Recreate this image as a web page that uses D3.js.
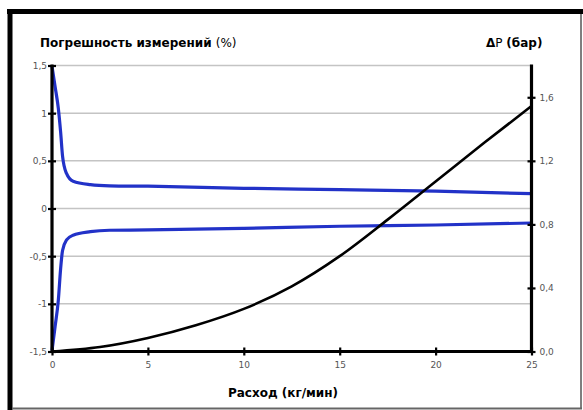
<!DOCTYPE html>
<html><head><meta charset="utf-8">
<script src="https://cdn.jsdelivr.net/npm/d3@7"></script>
<style>html,body{margin:0;padding:0;background:#fff;}svg{display:block;}</style>
</head><body>
<svg id="c" width="583" height="410"></svg>
<script>
// Data
const xTicks = [0, 5, 10, 15, 20, 25];
const leftTicks = [-1.5, -1, -0.5, 0, 0.5, 1, 1.5];
const rightTicks = [0, 0.4, 0.8, 1.2, 1.6];
const upperX = [0, 0.16, 0.33, 0.45, 0.55, 0.75, 1.1, 2, 3, 5, 10, 15, 20, 25];
const upperY = [1.49, 1.28, 1.05, 0.8, 0.55, 0.37, 0.285, 0.25, 0.238, 0.234, 0.212, 0.198, 0.182, 0.155];
const lowerX = [0, 0.16, 0.33, 0.45, 0.55, 0.76, 1.1, 2, 3, 5, 10, 15, 20, 25];
const lowerY = [-1.49, -1.24, -0.96, -0.63, -0.44, -0.33, -0.28, -0.243, -0.228, -0.225, -0.208, -0.186, -0.173, -0.152];
const dpX = [0, 2.5, 5, 7.5, 10, 12.5, 15, 17.5, 20, 22.5, 25];
const dpY = [0, 0.028, 0.085, 0.165, 0.268, 0.41, 0.6, 0.83, 1.07, 1.31, 1.545];

const fmt = d => String(d).replace('.', ',');
const fmtR = d => d.toFixed(1).replace('.', ',');

const svg = d3.select('#c');
const x = d3.scaleLinear().domain([0, 25]).range([52, 531.5]);
const yL = d3.scaleLinear().domain([-1.5, 1.5]).range([351.5, 65.5]);
const yR = d3.scaleLinear().domain([0, 1.8]).range([351.5, 65.5]);

// frame
svg.append('line').attr('x1', 7).attr('x2', 583).attr('y1', 11.5).attr('y2', 11.5).attr('stroke', '#000').attr('stroke-width', 5);
svg.append('line').attr('x1', 10).attr('x2', 10).attr('y1', 9).attr('y2', 410).attr('stroke', '#000').attr('stroke-width', 5);
svg.append('line').attr('x1', 581).attr('x2', 581).attr('y1', 14).attr('y2', 409).attr('stroke', '#555').attr('stroke-width', 1.5);
svg.append('line').attr('x1', 12).attr('x2', 582).attr('y1', 408.5).attr('y2', 408.5).attr('stroke', '#666').attr('stroke-width', 2);

// grid
svg.append('g').selectAll('line').data(leftTicks.filter(d => d > -1.5)).join('line')
  .attr('x1', x(0)).attr('x2', x(25)).attr('y1', d => yL(d)).attr('y2', d => yL(d))
  .attr('stroke', '#c4c4c4').attr('stroke-width', 1.5);

// curves
const line = d3.line().curve(d3.curveMonotoneX);
svg.append('path').attr('d', line(upperX.map((v, i) => [x(v), yL(upperY[i])])))
  .attr('fill', 'none').attr('stroke', '#2232c8').attr('stroke-width', 3.2);
svg.append('path').attr('d', line(lowerX.map((v, i) => [x(v), yL(lowerY[i])])))
  .attr('fill', 'none').attr('stroke', '#2232c8').attr('stroke-width', 3.2);
svg.append('path').attr('d', line(dpX.map((v, i) => [x(v), yR(dpY[i])])))
  .attr('fill', 'none').attr('stroke', '#000').attr('stroke-width', 2.6);

// axes
const axL = svg.append('g').attr('transform', `translate(${x(0)},0)`)
  .call(d3.axisLeft(yL).tickValues(leftTicks).tickFormat(fmt).tickSizeInner(4).tickSizeOuter(0));
const axR = svg.append('g').attr('transform', `translate(${x(25)},0)`)
  .call(d3.axisRight(yR).tickValues(rightTicks).tickFormat(fmtR).tickSizeInner(4).tickSizeOuter(0));
const axB = svg.append('g').attr('transform', `translate(0,${yL(-1.5)})`)
  .call(d3.axisBottom(x).tickValues(xTicks).tickSizeInner(4).tickSizeOuter(0));

[axL, axR, axB].forEach(a => {
  a.select('.domain').attr('stroke', '#000').attr('stroke-width', 3.2);
  a.selectAll('.tick line').attr('stroke', '#000').attr('stroke-width', 2.2);
  a.selectAll('.tick text').attr('fill', '#555').attr('font-family', 'DejaVu Sans, Verdana, sans-serif').attr('font-size', 9);
});
axL.select('.domain').attr('d', `M0,${yL(1.5) - 1}V${yL(-1.5) + 1.5}`);
axR.select('.domain').attr('d', `M0,${yR(1.8) - 1}V${yR(0) + 1.5}`);
axB.select('.domain').attr('d', `M${x(0)},0H${x(25) + 1.5}`);
axL.selectAll('.tick line').attr('x1', 4).attr('x2', -4);
axR.selectAll('.tick line').attr('x1', -4).attr('x2', 4);
axB.selectAll('.tick line').attr('y1', -4).attr('y2', 4);
axL.selectAll('.tick text').attr('x', -5);
axR.selectAll('.tick text').attr('x', 8);
axB.selectAll('.tick text').attr('y', 10);

// titles
const ff = 'DejaVu Sans, Verdana, sans-serif';
const t1 = svg.append('text').attr('x', 40).attr('y', 47).attr('font-family', ff).attr('font-size', 12).attr('fill', '#000');
t1.append('tspan').attr('font-weight', 'bold').text('Погрешность измерений ');
t1.append('tspan').text('(%)');
const t2 = svg.append('text').attr('x', 486).attr('y', 47).attr('font-family', ff).attr('font-size', 12).attr('fill', '#000');
t2.append('tspan').attr('font-weight', 'bold').text('Δ');
t2.append('tspan').text('P ');
t2.append('tspan').attr('font-weight', 'bold').text('(бар)');
svg.append('text').attr('x', 283).attr('y', 397).attr('text-anchor', 'middle').attr('font-family', ff)
  .attr('font-size', 12).attr('font-weight', 'bold').attr('fill', '#000').text('Расход (кг/мин)');
</script>
</body></html>
